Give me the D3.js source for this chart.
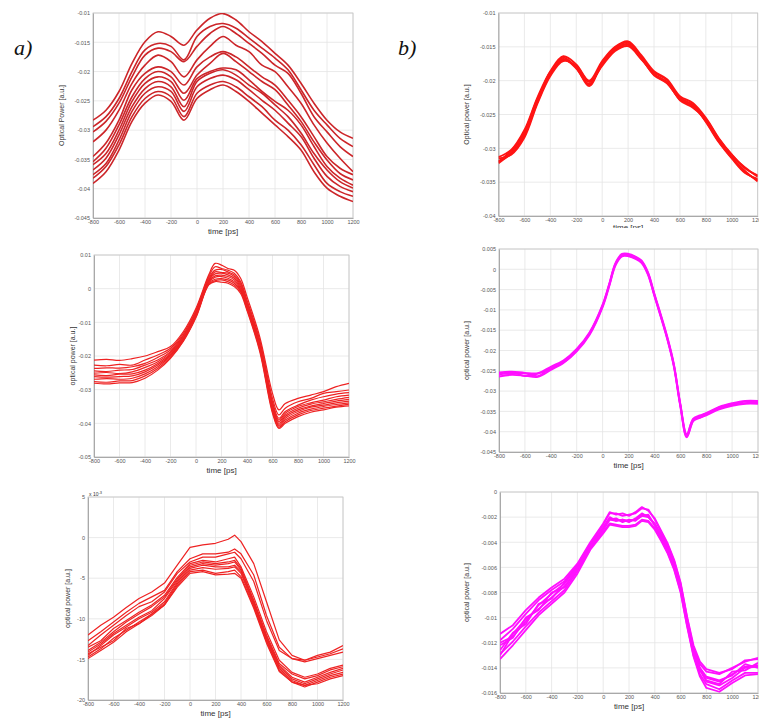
<!DOCTYPE html>
<html>
<head>
<meta charset="utf-8">
<script src="https://cdn.jsdelivr.net/npm/d3@7"></script>
<style>
body{margin:0;background:#fff;}
svg{display:block;}
.tick text{font-family:"Liberation Sans",Arial,sans-serif;font-size:5.5px;fill:#555;}
.axlab{font-family:"Liberation Sans",Arial,sans-serif;fill:#333;}
.panlab{font-family:"Liberation Serif","DejaVu Serif",serif;font-style:italic;font-size:22px;fill:#111;}
</style>
</head>
<body>
<svg id="fig" width="759" height="719"></svg>
<script>
// shared time axis
var timeTicks = [-800,-600,-400,-200,0,200,400,600,800,1000,1200];
var timeTickLabels = ["-800","-600","-400","-200","0","200","400","600","800","1000","1200"];

// ---- a) top : optical power, 11 shots
var timeA1 = [-800,-700,-600,-500,-400,-300,-200,-100,0,100,200,300,400,500,600,700,800,900,1000,1100,1200];
var tracesA1 = [
 [-0.0283,-0.0266,-0.0234,-0.0186,-0.0149,-0.0132,-0.0140,-0.0155,-0.0129,-0.0109,-0.0101,-0.0112,-0.0132,-0.0149,-0.0169,-0.0189,-0.0220,-0.0254,-0.0283,-0.0303,-0.0314],
 [-0.0294,-0.0277,-0.0246,-0.0200,-0.0163,-0.0152,-0.0157,-0.0180,-0.0140,-0.0123,-0.0118,-0.0126,-0.0143,-0.0160,-0.0177,-0.0197,-0.0231,-0.0266,-0.0291,-0.0314,-0.0328],
 [-0.0303,-0.0285,-0.0254,-0.0209,-0.0172,-0.0160,-0.0166,-0.0183,-0.0157,-0.0135,-0.0123,-0.0135,-0.0152,-0.0169,-0.0189,-0.0203,-0.0237,-0.0277,-0.0303,-0.0328,-0.0345],
 [-0.0320,-0.0300,-0.0266,-0.0220,-0.0189,-0.0172,-0.0183,-0.0209,-0.0180,-0.0157,-0.0140,-0.0155,-0.0166,-0.0189,-0.0200,-0.0226,-0.0254,-0.0291,-0.0322,-0.0348,-0.0371],
 [-0.0345,-0.0322,-0.0283,-0.0231,-0.0203,-0.0192,-0.0200,-0.0223,-0.0192,-0.0175,-0.0166,-0.0175,-0.0192,-0.0209,-0.0223,-0.0249,-0.0277,-0.0311,-0.0345,-0.0365,-0.0376],
 [-0.0354,-0.0331,-0.0291,-0.0243,-0.0212,-0.0200,-0.0209,-0.0237,-0.0206,-0.0186,-0.0169,-0.0183,-0.0200,-0.0217,-0.0231,-0.0257,-0.0285,-0.0320,-0.0351,-0.0374,-0.0385],
 [-0.0359,-0.0340,-0.0300,-0.0251,-0.0220,-0.0209,-0.0217,-0.0249,-0.0212,-0.0200,-0.0194,-0.0197,-0.0214,-0.0234,-0.0251,-0.0266,-0.0291,-0.0328,-0.0362,-0.0382,-0.0394],
 [-0.0368,-0.0348,-0.0308,-0.0260,-0.0229,-0.0217,-0.0226,-0.0260,-0.0217,-0.0203,-0.0197,-0.0206,-0.0223,-0.0237,-0.0257,-0.0277,-0.0305,-0.0340,-0.0368,-0.0388,-0.0399],
 [-0.0376,-0.0357,-0.0317,-0.0268,-0.0237,-0.0226,-0.0234,-0.0268,-0.0226,-0.0212,-0.0206,-0.0214,-0.0231,-0.0249,-0.0266,-0.0288,-0.0311,-0.0348,-0.0379,-0.0396,-0.0405],
 [-0.0382,-0.0362,-0.0325,-0.0277,-0.0246,-0.0234,-0.0243,-0.0277,-0.0237,-0.0223,-0.0217,-0.0226,-0.0243,-0.0260,-0.0283,-0.0300,-0.0325,-0.0359,-0.0391,-0.0405,-0.0413],
 [-0.0391,-0.0371,-0.0334,-0.0285,-0.0254,-0.0240,-0.0251,-0.0283,-0.0246,-0.0231,-0.0223,-0.0234,-0.0251,-0.0271,-0.0291,-0.0311,-0.0334,-0.0371,-0.0399,-0.0413,-0.0422]
];
var yTicksA1 = [-0.045,-0.04,-0.035,-0.03,-0.025,-0.02,-0.015,-0.01];
var yLabelsA1 = ["-0.045","-0.04","-0.035","-0.03","-0.025","-0.02","-0.015","-0.01"];

// ---- b) top
var timeB1 = [-800,-700,-600,-500,-400,-300,-200,-100,0,100,200,300,400,500,600,700,800,900,1000,1100,1200];
var tracesB1 = [
 [-0.0313,-0.0302,-0.0273,-0.0225,-0.0186,-0.0164,-0.0176,-0.0200,-0.0171,-0.0150,-0.0142,-0.0162,-0.0186,-0.0198,-0.0223,-0.0233,-0.0255,-0.0285,-0.0309,-0.0329,-0.0340],
 [-0.0319,-0.0308,-0.0281,-0.0232,-0.0191,-0.0169,-0.0180,-0.0206,-0.0176,-0.0154,-0.0147,-0.0167,-0.0191,-0.0203,-0.0228,-0.0238,-0.0260,-0.0290,-0.0314,-0.0335,-0.0347],
 [-0.0322,-0.0306,-0.0276,-0.0227,-0.0190,-0.0166,-0.0181,-0.0208,-0.0173,-0.0151,-0.0144,-0.0164,-0.0190,-0.0202,-0.0225,-0.0237,-0.0259,-0.0288,-0.0313,-0.0333,-0.0349],
 [-0.0315,-0.0309,-0.0284,-0.0234,-0.0193,-0.0171,-0.0178,-0.0202,-0.0178,-0.0156,-0.0149,-0.0168,-0.0188,-0.0199,-0.0229,-0.0240,-0.0257,-0.0286,-0.0310,-0.0328,-0.0342],
 [-0.0320,-0.0303,-0.0279,-0.0230,-0.0187,-0.0168,-0.0182,-0.0205,-0.0175,-0.0153,-0.0146,-0.0166,-0.0192,-0.0204,-0.0227,-0.0235,-0.0261,-0.0291,-0.0315,-0.0336,-0.0345]
];
var yTicksB1 = [-0.04,-0.035,-0.03,-0.025,-0.02,-0.015,-0.01];
var yLabelsB1 = ["-0.04","-0.035","-0.03","-0.025","-0.02","-0.015","-0.01"];

// ---- a) middle
var timeA2 = [-800,-700,-600,-500,-400,-300,-200,-100,0,100,150,200,250,300,350,400,500,600,650,700,800,900,1000,1100,1200];
var tracesA2 = [
 [-0.0212,-0.0210,-0.0213,-0.0208,-0.0200,-0.0187,-0.0172,-0.0128,-0.0058,0.0041,0.0075,0.0070,0.0060,0.0055,0.0031,-0.0024,-0.0143,-0.0311,-0.0360,-0.0341,-0.0326,-0.0316,-0.0306,-0.0291,-0.0281],
 [-0.0227,-0.0229,-0.0225,-0.0227,-0.0212,-0.0197,-0.0177,-0.0133,-0.0063,0.0036,0.0065,0.0060,0.0055,0.0046,0.0021,-0.0034,-0.0152,-0.0326,-0.0375,-0.0355,-0.0336,-0.0326,-0.0311,-0.0306,-0.0301],
 [-0.0237,-0.0235,-0.0236,-0.0232,-0.0222,-0.0204,-0.0182,-0.0138,-0.0068,0.0031,0.0055,0.0057,0.0050,0.0041,0.0016,-0.0039,-0.0157,-0.0336,-0.0385,-0.0365,-0.0346,-0.0331,-0.0321,-0.0313,-0.0309],
 [-0.0244,-0.0246,-0.0242,-0.0240,-0.0227,-0.0212,-0.0187,-0.0141,-0.0071,0.0026,0.0050,0.0048,0.0046,0.0036,0.0011,-0.0044,-0.0162,-0.0341,-0.0390,-0.0370,-0.0350,-0.0339,-0.0331,-0.0321,-0.0316],
 [-0.0251,-0.0249,-0.0252,-0.0247,-0.0234,-0.0217,-0.0190,-0.0145,-0.0073,0.0024,0.0044,0.0046,0.0041,0.0031,0.0006,-0.0049,-0.0167,-0.0346,-0.0395,-0.0375,-0.0355,-0.0343,-0.0336,-0.0329,-0.0323],
 [-0.0256,-0.0258,-0.0254,-0.0253,-0.0242,-0.0222,-0.0194,-0.0148,-0.0076,0.0021,0.0038,0.0040,0.0036,0.0026,0.0001,-0.0052,-0.0172,-0.0350,-0.0400,-0.0380,-0.0360,-0.0349,-0.0341,-0.0334,-0.0329],
 [-0.0261,-0.0263,-0.0261,-0.0259,-0.0247,-0.0227,-0.0197,-0.0150,-0.0078,0.0018,0.0034,0.0036,0.0031,0.0021,-0.0002,-0.0055,-0.0175,-0.0355,-0.0405,-0.0385,-0.0365,-0.0352,-0.0346,-0.0339,-0.0334],
 [-0.0269,-0.0267,-0.0269,-0.0266,-0.0253,-0.0232,-0.0200,-0.0152,-0.0081,0.0016,0.0028,0.0030,0.0026,0.0016,-0.0006,-0.0058,-0.0178,-0.0360,-0.0408,-0.0390,-0.0370,-0.0358,-0.0350,-0.0344,-0.0339],
 [-0.0276,-0.0278,-0.0274,-0.0273,-0.0259,-0.0237,-0.0204,-0.0155,-0.0083,0.0013,0.0024,0.0026,0.0021,0.0011,-0.0009,-0.0061,-0.0182,-0.0365,-0.0412,-0.0395,-0.0375,-0.0362,-0.0355,-0.0349,-0.0343],
 [-0.0281,-0.0283,-0.0280,-0.0279,-0.0266,-0.0242,-0.0207,-0.0157,-0.0086,0.0011,0.0021,0.0019,0.0016,0.0006,-0.0014,-0.0065,-0.0187,-0.0370,-0.0415,-0.0400,-0.0380,-0.0367,-0.0360,-0.0352,-0.0348]
];
var yTicksA2 = [-0.05,-0.04,-0.03,-0.02,-0.01,0,0.01];
var yLabelsA2 = ["-0.05","-0.04","-0.03","-0.02","-0.01","0","0.01"];

// ---- b) middle
var timeB2 = [-800,-700,-600,-500,-400,-300,-200,-100,0,50,100,150,200,250,300,350,400,500,550,600,650,700,750,800,900,1000,1100,1200];
var tracesB2 = [
 [-0.0254,-0.0252,-0.0255,-0.0256,-0.0240,-0.0224,-0.0196,-0.0155,-0.0087,-0.0037,0.0016,0.0038,0.0038,0.0032,0.0022,-0.0007,-0.0060,-0.0167,-0.0233,-0.0331,-0.0406,-0.0368,-0.0360,-0.0354,-0.0339,-0.0330,-0.0324,-0.0324],
 [-0.0264,-0.0260,-0.0262,-0.0265,-0.0248,-0.0230,-0.0202,-0.0161,-0.0093,-0.0043,0.0010,0.0032,0.0032,0.0026,0.0016,-0.0013,-0.0066,-0.0173,-0.0239,-0.0337,-0.0414,-0.0374,-0.0366,-0.0360,-0.0345,-0.0336,-0.0331,-0.0331],
 [-0.0260,-0.0253,-0.0263,-0.0257,-0.0246,-0.0226,-0.0198,-0.0159,-0.0091,-0.0041,0.0012,0.0036,0.0034,0.0028,0.0018,-0.0011,-0.0064,-0.0171,-0.0237,-0.0335,-0.0412,-0.0373,-0.0362,-0.0355,-0.0343,-0.0334,-0.0326,-0.0329],
 [-0.0257,-0.0258,-0.0256,-0.0263,-0.0242,-0.0229,-0.0200,-0.0157,-0.0089,-0.0039,0.0014,0.0034,0.0036,0.0030,0.0020,-0.0009,-0.0062,-0.0169,-0.0235,-0.0333,-0.0408,-0.0369,-0.0365,-0.0358,-0.0340,-0.0332,-0.0330,-0.0326]
];
var yTicksB2 = [-0.045,-0.04,-0.035,-0.03,-0.025,-0.02,-0.015,-0.01,-0.005,0,0.005];
var yLabelsB2 = ["-0.045","-0.04","-0.035","-0.03","-0.025","-0.02","-0.015","-0.01","-0.005","0","0.005"];

// ---- a) bottom (values in 1e-3)
var timeA3 = [-800,-700,-600,-500,-400,-300,-200,-100,0,100,200,300,350,400,500,600,700,800,900,1000,1100,1200];
var tracesA3 = [
 [-12.0,-10.8,-9.8,-8.6,-7.5,-6.7,-5.6,-3.4,-1.2,-0.9,-0.7,-0.2,0.3,-0.5,-3.2,-7.9,-12.6,-14.5,-15.1,-14.5,-14.1,-13.3],
 [-12.7,-11.6,-10.4,-9.2,-8.1,-7.3,-6.5,-4.2,-2.6,-2.0,-2.0,-1.8,-1.4,-2.0,-4.6,-9.6,-13.5,-14.9,-15.1,-14.7,-14.3,-13.7],
 [-13.3,-12.0,-10.8,-9.6,-8.5,-7.9,-6.7,-4.4,-3.0,-2.4,-2.4,-2.0,-1.8,-2.6,-5.4,-10.2,-13.9,-14.9,-15.3,-14.9,-14.5,-14.1],
 [-13.5,-12.7,-11.2,-10.2,-9.2,-8.3,-7.1,-4.9,-3.2,-2.8,-3.0,-2.6,-2.4,-3.6,-7.3,-11.6,-15.1,-16.6,-17.2,-16.8,-16.1,-15.7],
 [-13.9,-12.9,-11.6,-10.4,-9.4,-8.5,-7.3,-5.1,-3.4,-3.0,-3.2,-3.0,-2.8,-3.8,-7.7,-12.0,-15.5,-16.8,-17.4,-17.0,-16.3,-15.9],
 [-14.1,-13.1,-11.8,-10.8,-9.8,-9.0,-7.5,-5.3,-3.6,-3.2,-3.4,-3.2,-3.0,-4.0,-7.9,-12.2,-15.7,-17.2,-17.8,-17.2,-16.6,-16.1],
 [-14.5,-13.3,-12.0,-11.0,-10.0,-9.2,-7.9,-5.5,-3.8,-3.4,-3.6,-3.6,-3.4,-4.2,-8.1,-12.4,-15.9,-17.4,-18.0,-17.4,-16.8,-16.3],
 [-14.7,-13.7,-12.4,-11.4,-10.4,-9.4,-8.1,-5.7,-4.0,-3.7,-3.9,-3.8,-3.6,-4.4,-8.3,-12.6,-16.1,-17.6,-18.2,-17.6,-17.0,-16.6],
 [-14.9,-13.9,-12.9,-11.6,-10.6,-9.6,-8.3,-5.9,-4.2,-4.0,-4.4,-4.2,-4.0,-4.8,-8.5,-12.8,-16.3,-17.8,-18.4,-17.8,-17.2,-16.8],
 [-14.3,-13.5,-12.7,-11.2,-10.6,-9.4,-8.3,-6.1,-4.4,-4.2,-4.6,-4.5,-4.4,-5.0,-8.7,-13.0,-16.5,-17.8,-18.2,-18.0,-17.4,-17.0]
];
var yTicksA3 = [-20,-15,-10,-5,0,5];
var yLabelsA3 = ["-20","-15","-10","-5","0","5"];

// ---- b) bottom
var timeB3 = [-800,-700,-600,-500,-400,-300,-200,-100,0,50,100,150,200,250,300,350,400,450,500,550,600,650,700,750,800,900,1000,1100,1200];
var tracesB3 = [
 [-0.0118,-0.0109,-0.0097,-0.0086,-0.0078,-0.0071,-0.0058,-0.0041,-0.0026,-0.0017,-0.0017,-0.0019,-0.0018,-0.0017,-0.0013,-0.0014,-0.0022,-0.0032,-0.0042,-0.0055,-0.0073,-0.0100,-0.0124,-0.0137,-0.0143,-0.0145,-0.0140,-0.0135,-0.0132],
 [-0.0129,-0.0119,-0.0107,-0.0096,-0.0087,-0.0078,-0.0063,-0.0045,-0.0032,-0.0025,-0.0026,-0.0027,-0.0027,-0.0026,-0.0022,-0.0023,-0.0029,-0.0038,-0.0048,-0.0061,-0.0079,-0.0106,-0.0130,-0.0145,-0.0153,-0.0157,-0.0150,-0.0144,-0.0144],
 [-0.0122,-0.0116,-0.0100,-0.0094,-0.0080,-0.0076,-0.0061,-0.0042,-0.0028,-0.0020,-0.0023,-0.0022,-0.0024,-0.0021,-0.0017,-0.0020,-0.0025,-0.0034,-0.0044,-0.0057,-0.0075,-0.0102,-0.0126,-0.0140,-0.0147,-0.0150,-0.0146,-0.0137,-0.0140],
 [-0.0126,-0.0112,-0.0105,-0.0089,-0.0085,-0.0072,-0.0059,-0.0044,-0.0030,-0.0022,-0.0021,-0.0024,-0.0022,-0.0023,-0.0019,-0.0018,-0.0027,-0.0036,-0.0046,-0.0059,-0.0077,-0.0104,-0.0128,-0.0142,-0.0150,-0.0153,-0.0143,-0.0142,-0.0136],
 [-0.0120,-0.0115,-0.0103,-0.0090,-0.0081,-0.0073,-0.0060,-0.0043,-0.0029,-0.0021,-0.0022,-0.0023,-0.0023,-0.0022,-0.0018,-0.0019,-0.0026,-0.0035,-0.0045,-0.0058,-0.0076,-0.0103,-0.0127,-0.0141,-0.0148,-0.0151,-0.0145,-0.0139,-0.0138],
 [-0.0130,-0.0113,-0.0101,-0.0093,-0.0084,-0.0075,-0.0062,-0.0044,-0.0030,-0.0022,-0.0023,-0.0022,-0.0023,-0.0022,-0.0019,-0.0020,-0.0026,-0.0035,-0.0045,-0.0058,-0.0076,-0.0103,-0.0127,-0.0141,-0.0151,-0.0154,-0.0148,-0.0140,-0.0139],
 [-0.0113,-0.0106,-0.0094,-0.0084,-0.0076,-0.0069,-0.0057,-0.0040,-0.0025,-0.0016,-0.0018,-0.0017,-0.0019,-0.0016,-0.0012,-0.0015,-0.0021,-0.0031,-0.0041,-0.0054,-0.0072,-0.0099,-0.0122,-0.0135,-0.0141,-0.0144,-0.0141,-0.0134,-0.0133],
 [-0.0133,-0.0122,-0.0110,-0.0098,-0.0089,-0.0080,-0.0065,-0.0046,-0.0033,-0.0026,-0.0027,-0.0028,-0.0028,-0.0027,-0.0023,-0.0024,-0.0030,-0.0039,-0.0049,-0.0062,-0.0080,-0.0107,-0.0131,-0.0147,-0.0156,-0.0159,-0.0152,-0.0146,-0.0145]
];
var yTicksB3 = [-0.016,-0.014,-0.012,-0.01,-0.008,-0.006,-0.004,-0.002,0];
var yLabelsB3 = ["-0.016","-0.014","-0.012","-0.01","-0.008","-0.006","-0.004","-0.002","0"];

var panels = [
 {id:"a1",time:timeA1,traces:tracesA1,yTicks:yTicksA1,yLabels:yLabelsA1,left:93,right:353,top:13,bottom:218,
  ylab:"Optical Power [a.u.]",ylabX:62,color:"#cc2529",lw:1.6,curve:d3.curveCatmullRom},
 {id:"b1",time:timeB1,traces:tracesB1,yTicks:yTicksB1,yLabels:yLabelsB1,left:498.5,right:757.7,top:13,bottom:216,
  ylab:"Optical power [a.u.]",ylabX:467,color:"#ff1414",lw:1.9,curve:d3.curveCatmullRom,cut:228},
 {id:"a2",time:timeA2,traces:tracesA2,yTicks:yTicksA2,yLabels:yLabelsA2,left:94,right:349,top:255,bottom:457,
  ylab:"optical power [a.u.]",ylabX:73,color:"#ee2222",lw:1.2,curve:d3.curveCatmullRom},
 {id:"b2",time:timeB2,traces:tracesB2,yTicks:yTicksB2,yLabels:yLabelsB2,left:499,right:758,top:249,bottom:452,
  ylab:"optical power [a.u.]",ylabX:467,color:"#ff10ff",lw:1.9,curve:d3.curveCatmullRom},
 {id:"a3",time:timeA3,traces:tracesA3,yTicks:yTicksA3,yLabels:yLabelsA3,left:88,right:343,top:497,bottom:700,
  ylab:"optical power [a.u.]",ylabX:68,color:"#ee2222",lw:1.2,curve:d3.curveLinear,expo:true},
 {id:"b3",time:timeB3,traces:tracesB3,yTicks:yTicksB3,yLabels:yLabelsB3,left:500,right:758,top:492,bottom:693,
  ylab:"optical power [a.u.]",ylabX:467,color:"#ff10ff",lw:1.8,curve:d3.curveLinear}
];

var svg = d3.select("#fig");
var defs = svg.append("defs");

var drawPanel = function(p)
{
    var x = d3.scaleLinear().domain([-800,1200]).range([p.left,p.right]);
    var y = d3.scaleLinear().domain([p.yTicks[0],p.yTicks[p.yTicks.length-1]]).range([p.bottom,p.top]);
    var g = svg.append("g").attr("id",p.id);

    defs.append("clipPath").attr("id","clip-"+p.id)
        .append("rect")
        .attr("x",p.left).attr("y",p.top)
        .attr("width",p.right-p.left).attr("height",p.bottom-p.top);

    // grid
    var grid = g.append("g").attr("stroke","#e4e4e4").attr("stroke-width",0.8);
    grid.selectAll("line.v").data(timeTicks).enter().append("line")
        .attr("x1",function(d){return x(d);}).attr("x2",function(d){return x(d);})
        .attr("y1",p.top).attr("y2",p.bottom);
    grid.selectAll("line.h").data(p.yTicks).enter().append("line")
        .attr("y1",function(d){return y(d);}).attr("y2",function(d){return y(d);})
        .attr("x1",p.left).attr("x2",p.right);

    g.append("rect")
        .attr("x",p.left).attr("y",p.top)
        .attr("width",p.right-p.left).attr("height",p.bottom-p.top)
        .attr("fill","none").attr("stroke","#c4c4c4").attr("stroke-width",0.8);

    // axes
    var xAxis = d3.axisBottom(x).tickValues(timeTicks)
        .tickFormat(function(d,i){return timeTickLabels[i];})
        .tickSize(0).tickPadding(2.5);
    var yAxis = d3.axisLeft(y).tickValues(p.yTicks)
        .tickFormat(function(d,i){return p.yLabels[i];})
        .tickSize(0).tickPadding(3);
    g.append("g").attr("transform","translate(0,"+p.bottom+")").call(xAxis)
        .call(function(s){s.select(".domain").attr("stroke","#9a9a9a").attr("stroke-width",0.8);});
    g.append("g").attr("transform","translate("+p.left+",0)").call(yAxis)
        .call(function(s){s.select(".domain").attr("stroke","#9a9a9a").attr("stroke-width",0.8);});

    // traces
    var line = d3.line()
        .x(function(d,i){return x(p.time[i]);})
        .y(function(d){return y(d);})
        .curve(p.curve);
    g.append("g").attr("clip-path","url(#clip-"+p.id+")")
        .selectAll("path").data(p.traces).enter().append("path")
        .attr("d",line)
        .attr("fill","none")
        .attr("stroke",p.color)
        .attr("stroke-width",p.lw)
        .attr("stroke-linejoin","round");

    // labels
    var xl = g.append("text").classed("axlab",true)
        .attr("x",(p.left+p.right)/2).attr("y",p.bottom+(p.cut ? 14 : 16))
        .attr("text-anchor","middle").attr("font-size",8)
        .text("time [ps]");
    if (p.cut)
    {
        defs.append("clipPath").attr("id","cut-"+p.id)
            .append("rect").attr("x",p.left).attr("y",0).attr("width",p.right-p.left).attr("height",p.cut);
        xl.attr("clip-path","url(#cut-"+p.id+")");
    }
    g.append("text").classed("axlab",true)
        .attr("transform","translate("+p.ylabX+","+((p.top+p.bottom)/2)+") rotate(-90)")
        .attr("text-anchor","middle").attr("dy","0.35em")
        .attr("font-size",7).attr("fill","#555")
        .text(p.ylab);
    if (p.expo)
    {
        var ex = g.append("text").classed("axlab",true)
            .attr("x",p.left+1).attr("y",p.top-1).attr("font-size",5).attr("fill","#555");
        ex.append("tspan").text("x 10");
        ex.append("tspan").attr("dy",-2).attr("font-size",4).text("-3");
    }
}

panels.forEach(drawPanel);

svg.append("text").classed("panlab",true).attr("x",14).attr("y",55).text("a)");
svg.append("text").classed("panlab",true).attr("x",398).attr("y",55).text("b)");
</script>
</body>
</html>
